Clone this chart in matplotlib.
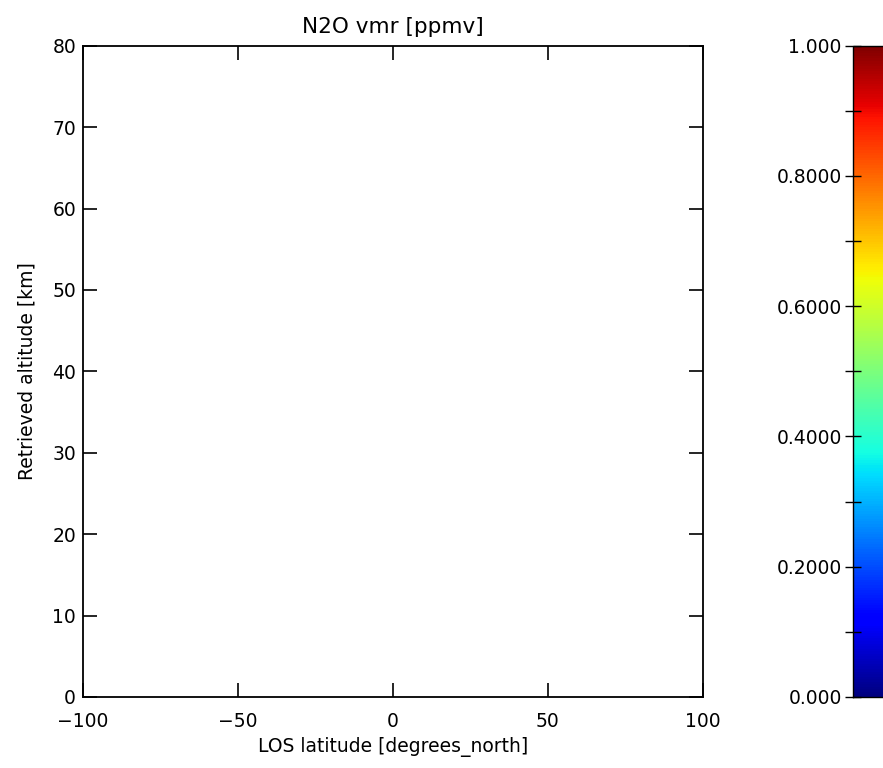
import matplotlib
matplotlib.use('Agg')
import matplotlib.pyplot as plt
import matplotlib.cm as cm
import matplotlib.colors as mcolors
import numpy as np

# axis ranges / ticks
x_range = [-100, 100]
y_range = [0, 80]
x_ticks = [-100, -50, 0, 50, 100]
y_ticks = [0, 10, 20, 30, 40, 50, 60, 70, 80]

# colour bar
cbar_range = [0.0, 1.0]
cbar_major = [0.0, 0.2, 0.4, 0.6, 0.8, 1.0]
cbar_labels = ['0.000', '0.2000', '0.4000', '0.6000', '0.8000', '1.000']
cbar_minor = [0.1, 0.3, 0.5, 0.7, 0.9]

title = 'N2O vmr [ppmv]'
xlabel = 'LOS latitude [degrees_north]'
ylabel = 'Retrieved altitude [km]'

plt.rcParams['font.family'] = ['DejaVu Sans']
fs = 13.5

fig = plt.figure(figsize=(8.83, 7.68), dpi=100)
ax = fig.add_axes([0.094, 0.0925, 0.702, 0.848])
ax.set_xlim(x_range)
ax.set_ylim(y_range)
ax.set_xticks(x_ticks)
ax.set_yticks(y_ticks)
ax.tick_params(direction='in', length=10, width=1.2, top=True, right=True,
               labelsize=fs, pad=5, color='black')
ax.tick_params(axis='x', pad=11)
for s in ax.spines.values():
    s.set_linewidth(1.3)
ax.set_title(title, fontsize=fs + 2, pad=9)
ax.set_xlabel(xlabel, fontsize=fs, labelpad=4)
ax.set_ylabel(ylabel, fontsize=fs, labelpad=11)

# colour bar axes (runs off the right edge as in the original)
cax = fig.add_axes([0.966, 0.0925, 0.06, 0.848])
norm = mcolors.Normalize(vmin=cbar_range[0], vmax=cbar_range[1])
sm = cm.ScalarMappable(norm=norm, cmap='jet')
cb = fig.colorbar(sm, cax=cax)
cb.outline.set_linewidth(1.0)
cax.yaxis.set_ticks_position('left')
cax.set_yticks(cbar_major)
cax.set_yticklabels(cbar_labels)
cax.set_yticks(cbar_minor, minor=True)
cax.tick_params(which='major', direction='inout', length=12, width=1.0,
                labelsize=fs, pad=2)
cax.tick_params(which='minor', direction='inout', length=12, width=1.0)

fig.savefig('out.png', dpi=100)
